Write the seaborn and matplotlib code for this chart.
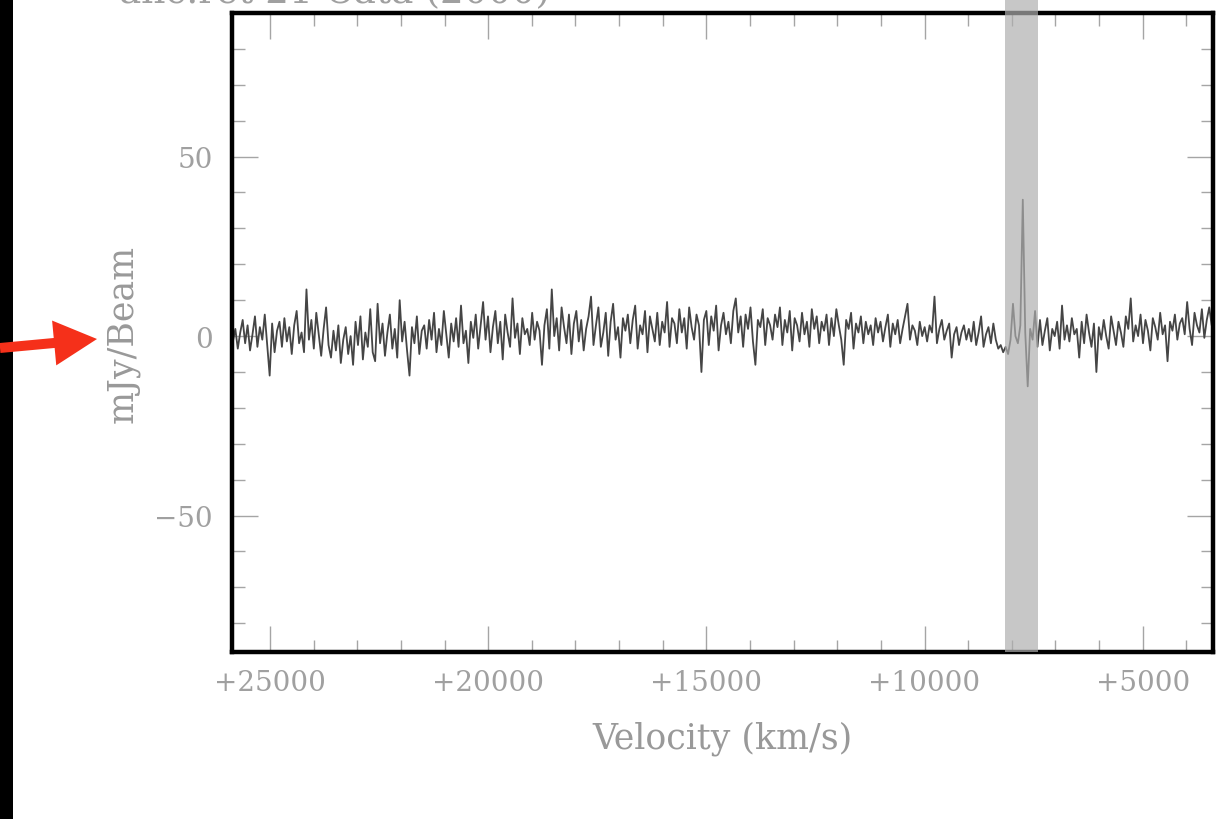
import numpy as np
import pandas as pd
import matplotlib
matplotlib.use("Agg")
import matplotlib.pyplot as plt
from matplotlib.patches import Rectangle, FancyArrow
from matplotlib.ticker import MultipleLocator, FixedLocator
import seaborn as sns

# ---------------- data ----------------
v_first = 25850.0   # km/s, first channel
v_last = 3420.0     # km/s, last channel
flux_mjy = [
    -1.5, 2.0, -3.5, 1.0, 4.5, -2.0, 3.0, -4.0, 0.5, 5.5, -3.0, 2.5, -1.0, 6.0, -2.5, -11.0, 3.5, -4.5, 1.5, 4.0,
    -3.0, 5.0, -1.5, 2.5, -5.0, 3.0, 7.0, -2.0, 1.0, -4.5, 13.0, -1.0, 4.5, -3.5, 6.5, 0.5, -5.5, 2.0, 8.0, -2.5,
    -6.0, 1.5, -4.0, 3.0, -7.5, -1.0, 2.5, -5.0, 0.0, -8.0, 4.0, -2.5, 5.5, -6.5, 1.0, -3.0, 7.5, -4.5, -7.0, 9.0,
    -2.0, 3.5, -5.5, 1.0, 6.0, -3.5, 2.0, -6.0, 10.0, -1.5, 4.0, -4.0, -11.0, 2.5, -2.0, 5.5, -5.0, 1.5, 3.0, -3.5,
    4.5, -1.0, 6.5, -4.5, 2.0, -2.5, 7.0, 0.5, -6.0, 3.5, -1.5, 5.0, -3.0, 8.5, -2.0, 1.5, -7.5, 4.0, -0.5, 6.0,
    -3.5, 3.0, 9.5, -1.0, 5.5, -4.5, 2.5, 7.0, -2.0, 4.0, -6.5, 6.0, 1.0, -3.0, 10.5, -0.5, 3.5, -5.0, 5.0, 0.5,
    2.0, -2.5, 6.5, -1.0, 4.0, 1.5, -8.0, 3.0, 7.5, -3.5, 13.0, 0.0, 5.0, -4.0, 8.0, 2.5, -2.0, 6.0, -5.0, 3.5,
    7.0, -1.5, 4.5, -4.0, 2.0, 5.5, 11.0, -2.5, 3.0, 8.0, -3.0, 1.0, 6.5, -5.5, 4.0, 9.0, -1.0, 2.5, -6.0, 5.0,
    1.5, 6.0, -2.0, 4.5, 8.5, -3.5, 3.0, 0.5, 7.0, -4.5, 5.5, 2.0, -1.5, 6.5, -2.5, 4.0, 1.0, 9.5, -3.0, 5.0,
    3.5, -2.0, 7.5, 1.0, 5.0, -3.5, 8.0, 2.5, -1.0, 6.0, 3.0, -10.0, 4.5, 7.0, -2.5, 5.5, 1.5, 8.5, -4.0, 3.0,
    6.5, 0.5, 4.0, -2.0, 7.0, 10.5, 1.0, 5.5, -3.0, 6.0, 2.0, 8.0, -1.5, -8.0, 4.5, 2.5, 7.5, -2.5, 5.0, 3.0,
    -1.0, 6.0, 2.5, 8.0, -2.5, 4.5, 1.0, 7.0, -4.0, 5.0, 3.0, -1.5, 6.5, 0.5, 4.0, -3.0, 7.5, 2.0, 5.5, -2.0,
    4.0, 1.5, 6.0, -2.5, 5.0, 0.0, 7.5, 3.0, -1.0, -8.0, 4.5, 2.0, 6.5, -3.5, 3.5, 1.0, 5.5, -2.0, 4.0, 0.5,
    3.0, -2.5, 5.0, 1.0, 4.0, -1.5, 2.5, 6.0, -3.0, 3.5, 0.5, 4.5, -2.0, 2.0, 5.5, 9.0, -1.0, 3.0, 1.5, -2.5,
    4.0, 0.0, 2.5, -1.5, 3.0, 1.0, 11.0, -2.0, 2.0, 4.5, -1.0, 1.5, 3.5, -6.0, 0.5, 2.5, -2.5, 1.0, 3.0, -1.0,
    2.0, -1.5, 4.0, -2.5, 1.0, 5.5, -3.0, 0.5, 2.5, -2.0, 3.5, -1.0, -3.5, -2.5, -4.5, -3.0, -5.0, -1.0, 9.0, 0.0,
    -2.0, 3.0, 38.0, 1.0, -14.0, 2.0, -1.0, 7.0, -3.0, 4.5, -2.5, 1.5, 5.0, -4.0, 2.0, 0.0, 4.0, -3.5, 8.5, -1.0,
    3.0, -1.5, 5.0, 0.5, 2.0, -6.0, 4.0, -2.0, 6.0, 1.0, -3.0, 3.5, -10.0, 2.5, -1.0, 4.5, 0.0, -3.5, 5.5, 1.5,
    -2.5, 4.0, 1.0, -3.0, 5.5, 2.0, 10.5, -1.5, 3.0, 0.0, 6.0, -2.0, 4.5, 1.5, -4.0, 5.0, 2.5, -1.0, 6.5, 0.5,
    3.0, -7.0, 4.0, 1.5, 6.0, -1.0, 3.5, 5.0, 0.5, 9.5, 2.0, -2.5, 6.5, 3.0, 1.0, 7.5, -0.5, 4.5, 8.0, 3.0,
]
band_v = [8160.0, 7400.0]          # shaded velocity window (km/s)
x_ticks = [25000, 20000, 15000, 10000, 5000]
x_labels = ["+25000", "+20000", "+15000", "+10000", "+5000"]
y_ticks = [-50, 0, 50]
y_labels = ["\u221250", "0", "50"]
x_limits = [25870.0, 3390.0]
y_limits = [-88.0, 90.0]
title_text = "alic.ret 21 Cata (2000)"

velocity = np.linspace(v_first, v_last, len(flux_mjy))
df = pd.DataFrame({"velocity": velocity, "flux": flux_mjy})

# ---------------- style ----------------
sns.set_style("white")
plt.rcParams["font.family"] = ["DejaVu Serif", "DejaVu Sans"]
plt.rcParams["axes.unicode_minus"] = True

W, H = 1230, 820
fig = plt.figure(figsize=(W / 100, H / 100), dpi=100)
fig.patch.set_facecolor("white")

ax_l, ax_r, ax_t, ax_b = 232, 1213, 14, 653
ax = fig.add_axes([ax_l / W, 1 - ax_b / H, (ax_r - ax_l) / W, (ax_b - ax_t) / H])
ax.set_facecolor("white")

sns.lineplot(data=df, x="velocity", y="flux", ax=ax, color="#454545",
             linewidth=1.3, sort=False, estimator=None, zorder=2)

ax.set_xlim(*x_limits)
ax.set_ylim(*y_limits)

# shaded band drawn above everything, semi-transparent
ax.axvspan(band_v[0], band_v[1], ymin=0, ymax=1.2, color="#afafaf", alpha=0.69,
           lw=0, zorder=5, clip_on=False)

# ticks
ax.xaxis.set_major_locator(FixedLocator(x_ticks))
ax.set_xticklabels(x_labels)
ax.xaxis.set_minor_locator(MultipleLocator(1000))
ax.yaxis.set_major_locator(FixedLocator(y_ticks))
ax.set_yticklabels(y_labels)
ax.yaxis.set_minor_locator(MultipleLocator(10))

tick_col = "#a5a5a5"
ax.tick_params(which="both", direction="in", top=True, right=True,
               bottom=True, left=True, color=tick_col, width=1.0)
ax.tick_params(which="major", length=19)
ax.tick_params(which="minor", length=9)
ax.tick_params(axis="x", which="major", labelsize=20, labelcolor="#a0a0a0", pad=12)
ax.tick_params(axis="y", which="major", labelsize=20, labelcolor="#a0a0a0", pad=14)

for s in ax.spines.values():
    s.set_color("black")
    s.set_linewidth(3.2)
    s.set_zorder(4)

ax.set_xlabel("Velocity (km/s)", fontsize=25, color="#999999", labelpad=18)
ax.set_ylabel("mJy/Beam", fontsize=25, color="#999999", labelpad=10)
ax.grid(False)

# cut-off title at the very top (only its lower edge shows, as in the reference)
fig.text(0.272, 1 - 3 / H, title_text, fontsize=27, color="#a0a0a0",
         ha="center", va="baseline")

# black strip at left edge
fig.add_artist(Rectangle((0, 0), 13 / W, 1, transform=fig.transFigure,
                         facecolor="black", edgecolor="none", zorder=10))

# red arrow pointing at the y label
arrow = FancyArrow(0.0, (H - 349) / 100, 0.97, 0.09, width=0.10,
                   head_width=0.45, head_length=0.43, length_includes_head=True,
                   transform=fig.dpi_scale_trans, facecolor="#f5301a",
                   edgecolor="none", zorder=11)
fig.add_artist(arrow)

fig.savefig("out.png", dpi=100, facecolor="white")
